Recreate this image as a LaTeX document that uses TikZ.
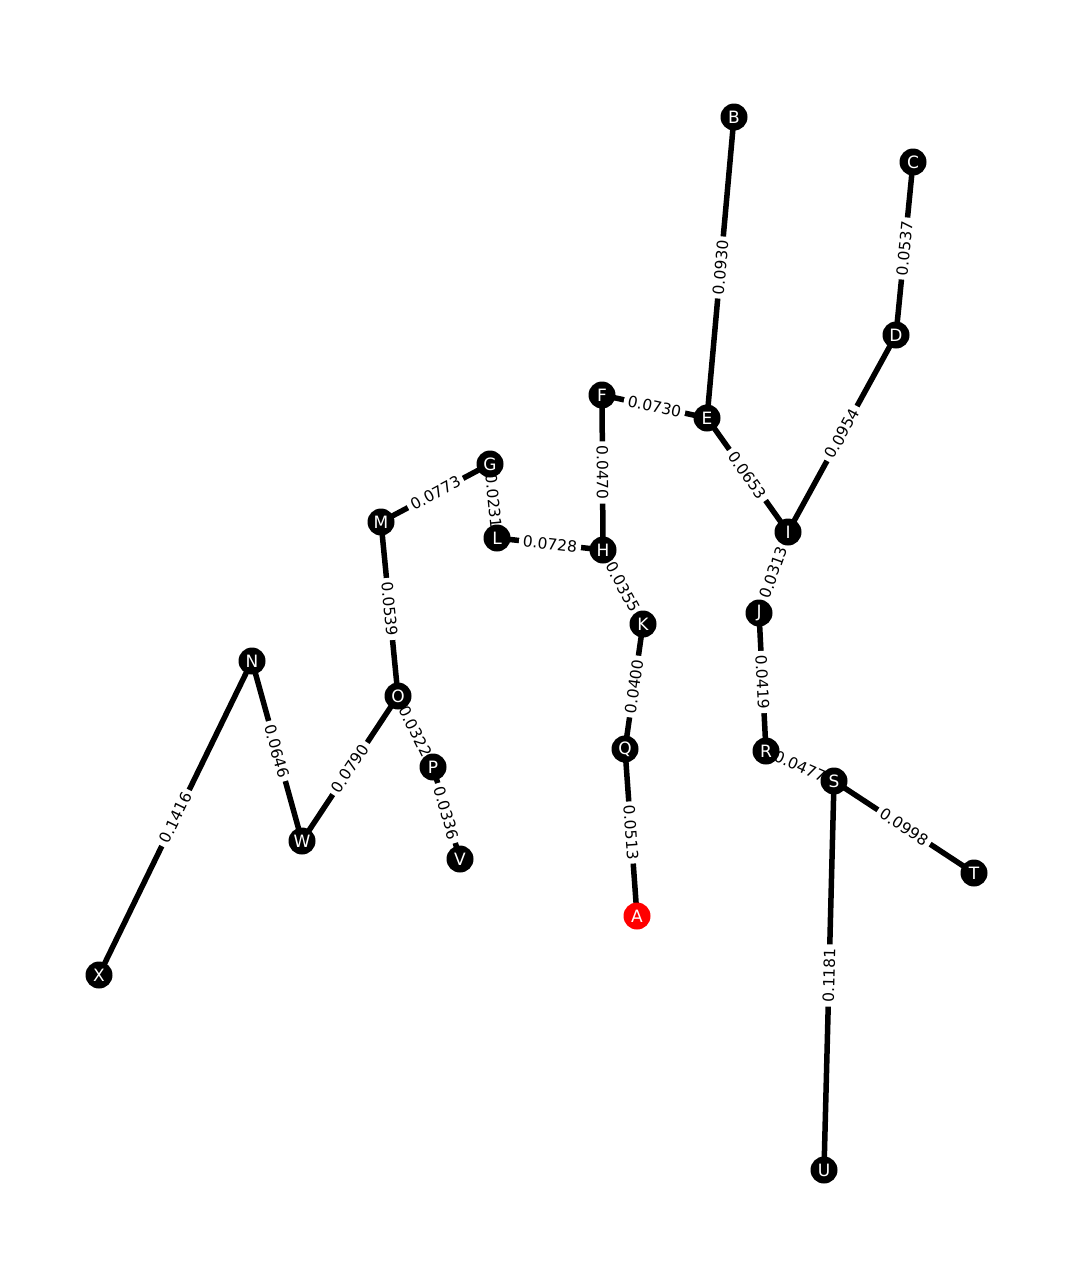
\documentclass[tikz,border=0pt]{standalone}
\usepackage{fontspec}
\setmainfont{DejaVu Sans}
\pgfdeclarelayer{edges}
\pgfdeclarelayer{labels}
\pgfsetlayers{edges,labels,main}
\begin{document}
\begin{tikzpicture}[x=1pt,y=-1pt,
  vert/.style={circle,fill=black,text=white,minimum size=27pt,inner sep=0pt,font=\fontsize{17}{19}\selectfont},
  edge/.style={line width=5.5pt,black},
  lab/.style={fill=white,inner sep=4pt,font=\fontsize{15.5}{17}\selectfont}]
\useasboundingbox (0,0) rectangle (1072,1288);
\node[vert] (B) at (734,117) {B};
\node[vert] (C) at (913,162) {C};
\node[vert] (D) at (896,335) {D};
\node[vert] (E) at (707,418) {E};
\node[vert] (F) at (602,395) {F};
\node[vert] (G) at (490,464) {G};
\node[vert] (H) at (603,550) {H};
\node[vert] (I) at (788,532) {I};
\node[vert] (J) at (759,613) {J};
\node[vert] (K) at (643,624) {K};
\node[vert] (L) at (497,538) {L};
\node[vert] (M) at (381,522) {M};
\node[vert] (N) at (252,661) {N};
\node[vert] (O) at (398,696) {O};
\node[vert] (P) at (433,767) {P};
\node[vert] (Q) at (625,749) {Q};
\node[vert] (R) at (766,751) {R};
\node[vert] (S) at (834,781) {S};
\node[vert] (T) at (974,873) {T};
\node[vert] (U) at (824,1170) {U};
\node[vert] (V) at (460,859) {V};
\node[vert] (W) at (302,841) {W};
\node[vert] (X) at (99,975) {X};
\node[vert,fill=red] (A) at (637,916) {A};
\foreach \a/\b/\w in {B/E/0.0930, C/D/0.0537, D/I/0.0954, E/F/0.0730, E/I/0.0653,
  F/H/0.0470, G/M/0.0773, G/L/0.0231, L/H/0.0728, H/K/0.0355, I/J/0.0313,
  J/R/0.0419, K/Q/0.0400, Q/A/0.0513, M/O/0.0539, O/W/0.0790, O/P/0.0322,
  P/V/0.0336, N/W/0.0646, N/X/0.1416, R/S/0.0477, S/T/0.0998, S/U/0.1181} {
  \begin{pgfonlayer}{edges}
    \draw[edge] (\a.center) -- (\b.center);
  \end{pgfonlayer}
  \begin{pgfonlayer}{labels}
    \path (\a.center) -- (\b.center) node[lab,midway,sloped] {\w};
  \end{pgfonlayer}
}
\end{tikzpicture}
\end{document}
